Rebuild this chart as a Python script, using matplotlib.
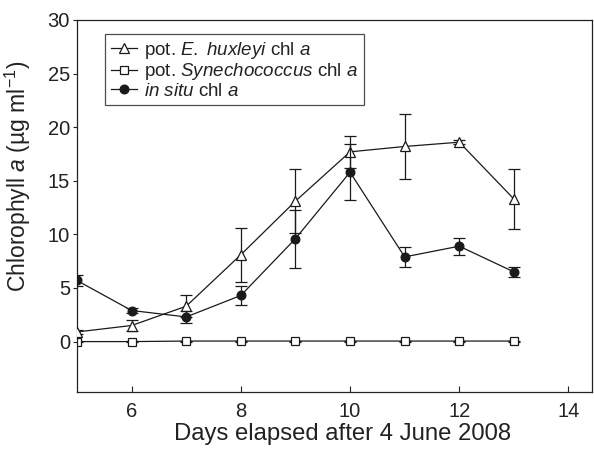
import matplotlib
matplotlib.use("Agg")
import matplotlib.pyplot as plt

plt.rcParams['font.family'] = ['Liberation Sans', 'DejaVu Sans']
plt.rcParams['mathtext.fontset'] = 'custom'
plt.rcParams['mathtext.rm'] = 'Liberation Sans'
plt.rcParams['mathtext.it'] = 'Liberation Sans:italic'

days = [5, 6, 7, 8, 9, 10, 11, 12, 13]
ehux = [0.9, 1.5, 3.3, 8.1, 13.1, 17.7, 18.2, 18.6, 13.3]
ehux_err = [0.2, 0.5, 1.0, 2.5, 3.0, 1.5, 3.0, 0.2, 2.8]
syn = [0.0, 0.0, 0.05, 0.05, 0.05, 0.05, 0.05, 0.05, 0.05]
syn_err = [0.05, 0.05, 0.05, 0.05, 0.05, 0.05, 0.05, 0.05, 0.05]
insitu = [5.7, 2.9, 2.3, 4.3, 9.6, 15.8, 7.9, 8.9, 6.5]
insitu_err = [0.5, 0.2, 0.6, 0.85, 2.7, 2.6, 0.95, 0.8, 0.5]

labels = ['pot. $\\it{E.\\ huxleyi}$ chl $\\it{a}$',
          'pot. $\\it{Synechococcus}$ chl $\\it{a}$',
          '$\\it{in\\ situ}$ chl $\\it{a}$']

fig = plt.figure(figsize=(5.94, 4.49), dpi=100)
ax = fig.add_axes([0.1296, 0.127, 0.867, 0.8285])

c = '#1a1a1a'
kw = dict(color=c, lw=0.9, capsize=4, elinewidth=0.9, capthick=0.9)
e1 = ax.errorbar(days, ehux, yerr=ehux_err, marker='^', ms=7, mfc='white',
                 mec=c, mew=0.9, zorder=3, **kw)
e2 = ax.errorbar(days, syn, yerr=syn_err, marker='s', ms=5.5, mfc='white',
                 mec=c, mew=0.9, zorder=2, **kw)
e3 = ax.errorbar(days, insitu, yerr=insitu_err, marker='o', ms=6.3, mfc=c,
                 mec=c, mew=0.9, zorder=4, **kw)

ax.set_xlim(5, 14.43)
ax.set_ylim(-4.7, 30)
ax.set_xticks([6, 8, 10, 12, 14])
ax.set_yticks([0, 5, 10, 15, 20, 25, 30])
ax.tick_params(axis='x', direction='in', length=4, width=0.8, labelsize=14.5, pad=7, colors='#222222')
ax.tick_params(axis='y', direction='out', length=3, width=0.8, labelsize=14.5, pad=2, colors='#222222')
for s in ax.spines.values():
    s.set_linewidth(0.9)
    s.set_color('#222222')

ax.set_xlabel('Days elapsed after 4 June 2008', fontsize=17.2, color='#222222', labelpad=2)
ax.xaxis.label.set_x(0.515)
ax.set_ylabel('Chlorophyll $\\it{a}$ (µg ml$^{-1}$)', fontsize=16.5, color='#222222')
ax.yaxis.set_label_coords(-0.0854, 0.579)

leg = ax.legend([e1[0], e2[0], e3[0]], labels, loc='upper left',
                bbox_to_anchor=(0.0544, 0.962), fontsize=13.5, frameon=True,
                fancybox=False, edgecolor='#222222', handlelength=1.4,
                handletextpad=0.4, labelspacing=0.02, borderpad=0.3,
                borderaxespad=0)
leg.get_frame().set_linewidth(0.9)
for t in leg.get_texts():
    t.set_color('#222222')

fig.savefig('out.png', dpi=100)
